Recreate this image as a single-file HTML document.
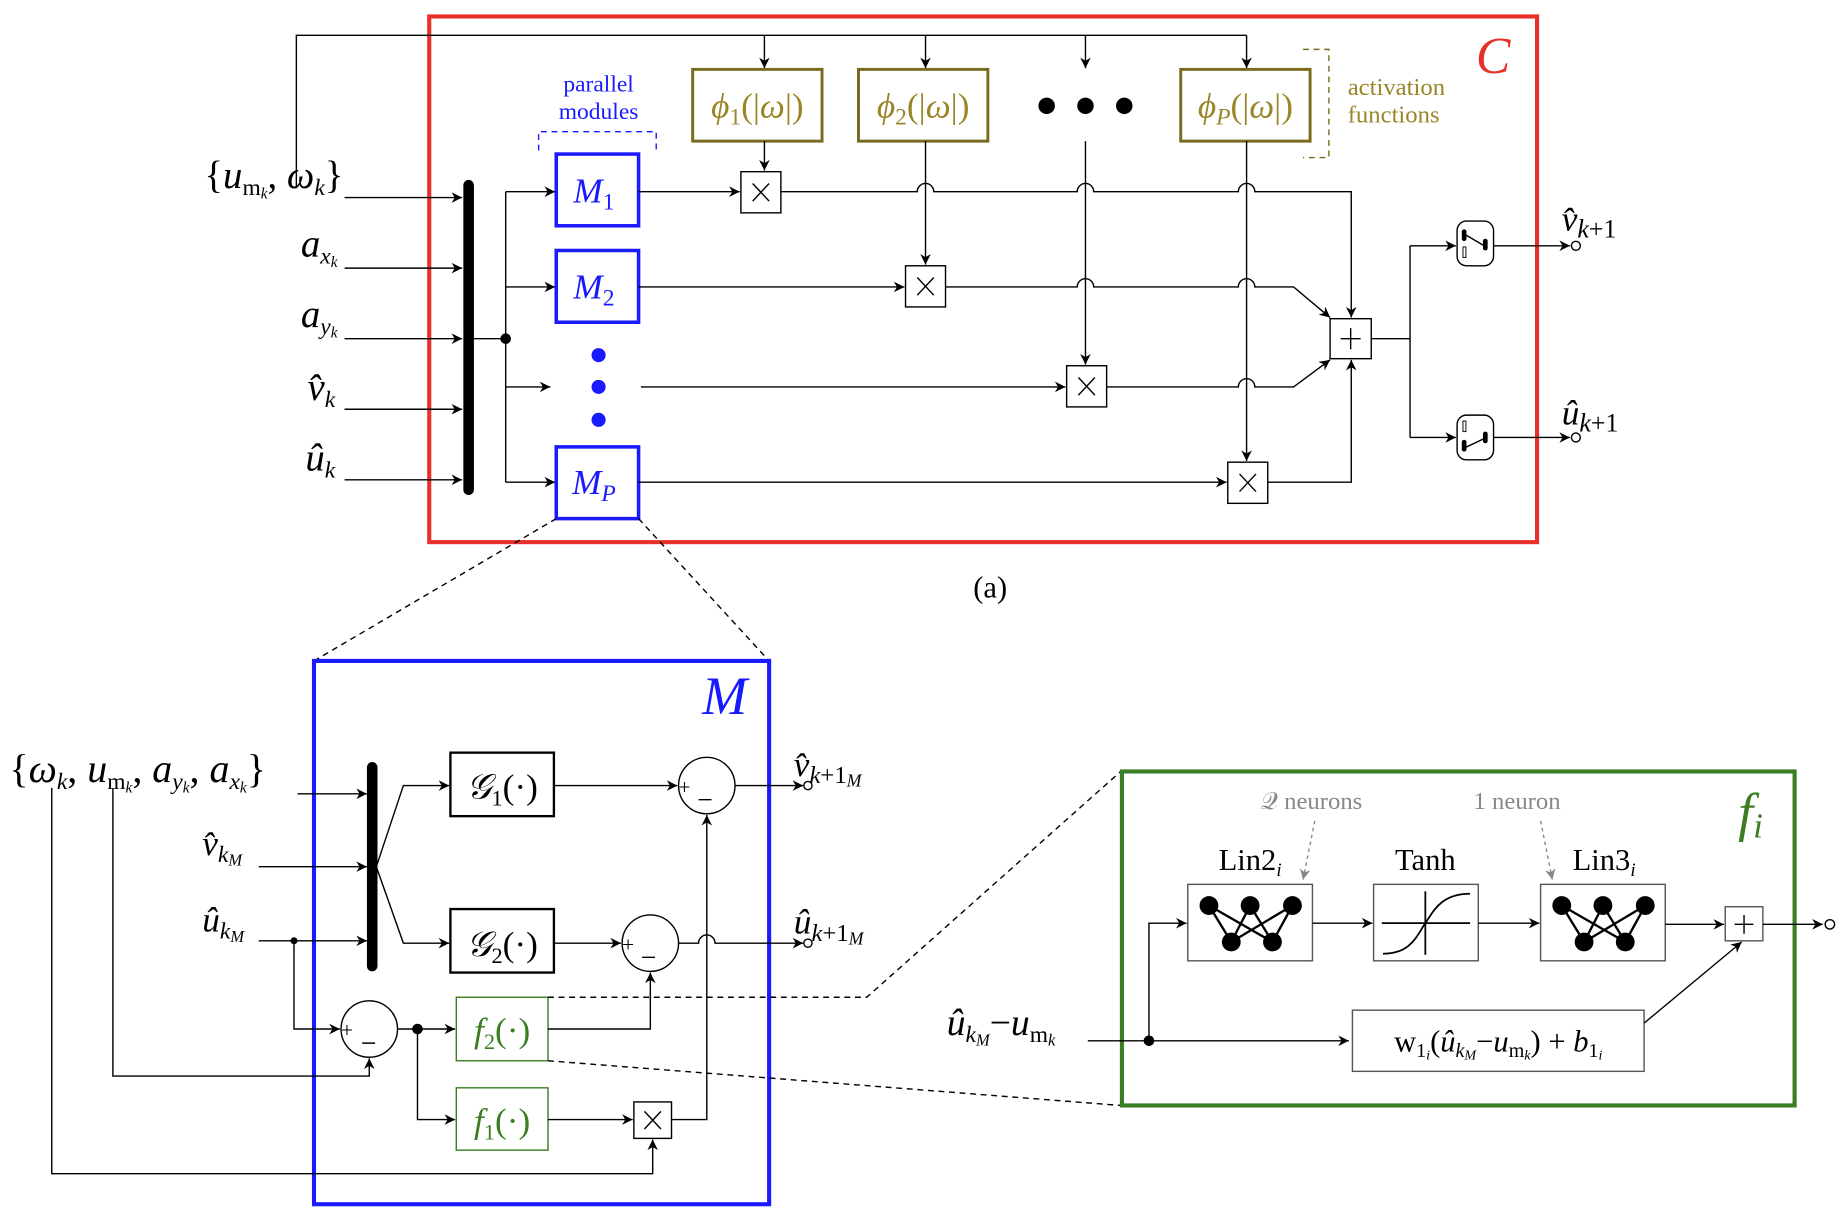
<!DOCTYPE html>
<html><head><meta charset="utf-8"><style>
html,body{margin:0;padding:0;background:#fff}
svg{display:block}
text{font-family:"Liberation Serif",serif}
.i{font-style:italic}
</style></head><body>
<svg width="1844" height="1216" viewBox="0 0 1568 1034" preserveAspectRatio="none" xmlns="http://www.w3.org/2000/svg">
<defs>
<marker id="a" viewBox="0 0 10 10" refX="10" refY="5" markerWidth="9" markerHeight="9" markerUnits="userSpaceOnUse" orient="auto"><path d="M0,0 L10,5 L0,10 L3,5 z" fill="#000"/></marker>
<marker id="g" viewBox="0 0 10 10" refX="10" refY="5" markerWidth="9" markerHeight="9" markerUnits="userSpaceOnUse" orient="auto"><path d="M0,0 L10,5 L0,10 L3,5 z" fill="#888"/></marker>
</defs>
<g fill="none" stroke="#000" stroke-width="1.2">
<rect x="365" y="14" width="942" height="447" stroke="#e8302a" stroke-width="3.5"/>
<polyline points="252,160 252,30 1060,30"/>
<line x1="650" y1="30" x2="650" y2="58" marker-end="url(#a)"/>
<line x1="787" y1="30" x2="787" y2="58" marker-end="url(#a)"/>
<line x1="923" y1="30" x2="923" y2="58" marker-end="url(#a)"/>
<line x1="1060" y1="30" x2="1060" y2="58" marker-end="url(#a)"/>
<g stroke="#7a6a1e" stroke-width="2.5">
<rect x="589" y="59" width="110" height="61"/><rect x="730" y="59" width="110" height="61"/><rect x="1004" y="59" width="110" height="61"/>
</g>
<polyline points="1108,42 1130,42 1130,134 1108,134" stroke="#7a6a1e" stroke-dasharray="5,4"/>
<polyline points="458,128 458,112 558,112 558,128" stroke="#1a1aff" stroke-dasharray="5,4"/>
<g stroke="#1a1aff" stroke-width="3">
<rect x="473" y="131" width="70" height="61"/><rect x="473" y="213" width="70" height="61"/><rect x="473" y="380" width="70" height="61"/>
</g>
<line x1="293" y1="168" x2="393" y2="168" marker-end="url(#a)"/>
<line x1="293" y1="228" x2="393" y2="228" marker-end="url(#a)"/>
<line x1="293" y1="288" x2="393" y2="288" marker-end="url(#a)"/>
<line x1="293" y1="348" x2="393" y2="348" marker-end="url(#a)"/>
<line x1="293" y1="408" x2="393" y2="408" marker-end="url(#a)"/>
<line x1="403" y1="288" x2="430" y2="288"/>
<line x1="430" y1="163" x2="430" y2="410"/>
<line x1="430" y1="163" x2="472" y2="163" marker-end="url(#a)"/>
<line x1="430" y1="244" x2="472" y2="244" marker-end="url(#a)"/>
<line x1="430" y1="329" x2="468" y2="329" marker-end="url(#a)"/>
<line x1="430" y1="410" x2="472" y2="410" marker-end="url(#a)"/>
<rect x="630" y="146" width="34" height="35"/><rect x="770" y="226" width="34" height="35"/>
<rect x="907" y="311" width="34" height="35"/><rect x="1044" y="393" width="34" height="35"/>
<line x1="543" y1="163" x2="629" y2="163" marker-end="url(#a)"/>
<line x1="543" y1="244" x2="769" y2="244" marker-end="url(#a)"/>
<line x1="545" y1="329" x2="906" y2="329" marker-end="url(#a)"/>
<line x1="543" y1="410" x2="1043" y2="410" marker-end="url(#a)"/>
<line x1="650" y1="120" x2="650" y2="145" marker-end="url(#a)"/>
<line x1="787" y1="120" x2="787" y2="225" marker-end="url(#a)"/>
<line x1="923" y1="120" x2="923" y2="310" marker-end="url(#a)"/>
<line x1="1060" y1="120" x2="1060" y2="392" marker-end="url(#a)"/>
<path d="M664,163 H780 A7,7 0 0 1 794,163 H916 A7,7 0 0 1 930,163 H1053 A7,7 0 0 1 1067,163 H1149 V270" marker-end="url(#a)"/>
<path d="M804,244 H916 A7,7 0 0 1 930,244 H1053 A7,7 0 0 1 1067,244 H1100 L1131,270" marker-end="url(#a)"/>
<path d="M941,329 H1053 A7,7 0 0 1 1067,329 H1100 L1131,306" marker-end="url(#a)"/>
<path d="M1078,410 H1149 V306" marker-end="url(#a)"/>
<rect x="1131" y="271" width="35" height="34"/>
<path d="M1140,288 H1157 M1148.5,279 V297"/>
<path d="M640,156 L654,171 M654,156 L640,171 M780,236 L794,251 M794,236 L780,251 M917,321 L931,336 M931,321 L917,336 M1054,403 L1068,418 M1068,403 L1054,418"/>
<line x1="1166" y1="288" x2="1199" y2="288"/>
<line x1="1199" y1="209" x2="1199" y2="372"/>
<line x1="1199" y1="209" x2="1238" y2="209" marker-end="url(#a)"/>
<line x1="1199" y1="372" x2="1238" y2="372" marker-end="url(#a)"/>
<rect x="1239" y="188" width="31" height="38" rx="8"/><rect x="1239" y="353" width="31" height="38" rx="8"/>
<path d="M1245,199 L1262,209"/><path d="M1245,381 L1262,373"/>
<rect x="1244" y="210" width="2.5" height="9" stroke-width="0.8"/><rect x="1244" y="358" width="2.5" height="9" stroke-width="0.8"/>
<line x1="1270" y1="209" x2="1335" y2="209" marker-end="url(#a)"/>
<line x1="1270" y1="372" x2="1335" y2="372" marker-end="url(#a)"/>
<circle cx="1340" cy="209" r="3.8"/><circle cx="1340" cy="372" r="3.8"/>
<line x1="473" y1="441" x2="267" y2="562" stroke-dasharray="5,4"/>
<line x1="543" y1="441" x2="654" y2="562" stroke-dasharray="5,4"/>
<rect x="267" y="562" width="387" height="462" stroke="#1a1aff" stroke-width="3.5"/>
<line x1="253" y1="675" x2="312" y2="675" marker-end="url(#a)"/>
<line x1="220" y1="737" x2="312" y2="737" marker-end="url(#a)"/>
<line x1="220" y1="800" x2="312" y2="800" marker-end="url(#a)"/>
<polyline points="320,737 343,668 382,668" marker-end="url(#a)"/>
<polyline points="320,737 343,802 382,802" marker-end="url(#a)"/>
<rect x="383" y="640" width="88" height="54" stroke-width="2"/>
<rect x="383" y="773" width="88" height="54" stroke-width="2"/>
<line x1="471" y1="668" x2="576" y2="668" marker-end="url(#a)"/>
<circle cx="601" cy="668" r="24"/>
<line x1="625" y1="668" x2="683" y2="668" marker-end="url(#a)"/>
<circle cx="687" cy="668" r="3.5"/>
<line x1="471" y1="802" x2="528" y2="802" marker-end="url(#a)"/>
<circle cx="553" cy="802" r="24"/>
<path d="M577,802 H594 A7,7 0 0 1 608,802 H683" marker-end="url(#a)"/>
<circle cx="687" cy="802" r="3.5"/>
<polyline points="250,800 250,875 289,875" marker-end="url(#a)"/>
<circle cx="314" cy="875" r="24"/>
<polyline points="96,670 96,915 314,915 314,900" marker-end="url(#a)"/>
<line x1="338" y1="875" x2="387" y2="875" marker-end="url(#a)"/>
<polyline points="355,875 355,952 387,952" marker-end="url(#a)"/>
<rect x="388" y="848" width="78" height="54" stroke="#3a7d22"/>
<rect x="388" y="925" width="78" height="53" stroke="#3a7d22"/>
<polyline points="466,875 553,875 553,827" marker-end="url(#a)"/>
<line x1="466" y1="952" x2="538" y2="952" marker-end="url(#a)"/>
<rect x="539" y="937" width="32" height="31"/>
<path d="M548,945 L562,960 M562,945 L548,960"/>
<polyline points="571,952 601,952 601,693" marker-end="url(#a)"/>
<polyline points="44,670 44,998 555,998 555,969" marker-end="url(#a)"/>
<polyline points="466,848 737,848 953,656" stroke-dasharray="5,4"/>
<line x1="466" y1="902" x2="953" y2="940" stroke-dasharray="5,4"/>
<!-- minus signs in sum circles -->
<path d="M594,680 H605 M546,814 H557 M308,887 H319"/>
<rect x="954" y="656" width="572" height="284" stroke="#3a7d22" stroke-width="3.5"/>
<rect x="1010" y="752" width="106" height="65" stroke="#555"/>
<rect x="1168" y="752" width="89" height="65" stroke="#555"/>
<rect x="1310" y="752" width="106" height="65" stroke="#555"/>
<line x1="1118" y1="698" x2="1108" y2="748" stroke="#888" stroke-dasharray="3,3" marker-end="url(#g)"/>
<line x1="1310" y1="698" x2="1320" y2="748" stroke="#888" stroke-dasharray="3,3" marker-end="url(#g)"/>
<polyline points="977,885 977,785 1009,785" marker-end="url(#a)"/>
<line x1="1116" y1="785" x2="1167" y2="785" marker-end="url(#a)"/>
<line x1="1257" y1="785" x2="1309" y2="785" marker-end="url(#a)"/>
<line x1="1416" y1="786" x2="1466" y2="786" marker-end="url(#a)"/>
<rect x="1467" y="771" width="32" height="29" stroke="#555"/>
<path d="M1475,786 H1491 M1483,778 V794"/>
<line x1="1499" y1="786" x2="1550" y2="786" marker-end="url(#a)"/>
<circle cx="1556" cy="786" r="4"/>
<line x1="925" y1="885" x2="1147" y2="885" marker-end="url(#a)"/>
<rect x="1150" y="859" width="248" height="52" stroke="#555"/>
<line x1="1398" y1="870" x2="1481" y2="801" marker-end="url(#a)"/>
<path d="M1175,785 H1250 M1212,758 V812" stroke-width="1.5"/>
<path d="M1176,811 C1200,811 1205,795 1212,785 C1219,775 1225,760 1250,760" stroke-width="1.5"/>
<g stroke-width="2">
<path d="M1028,770 L1047,801 L1063,770 L1082,801 L1099,770 M1028,770 L1082,801 M1099,770 L1047,801"/>
<path d="M1328,770 L1347,801 L1363,770 L1382,801 L1399,770 M1328,770 L1382,801 M1399,770 L1347,801"/>
</g>
</g>
<g fill="#000">
<rect x="394" y="153" width="9" height="268" rx="4.5"/>
<rect x="312" y="648" width="9" height="178" rx="4.5"/>
<circle cx="430" cy="288" r="4.5"/><circle cx="250" cy="800" r="3"/><circle cx="355" cy="875" r="4.5"/><circle cx="977" cy="885" r="4.5"/>
<circle cx="890" cy="90" r="7"/><circle cx="923" cy="90" r="7"/><circle cx="956" cy="90" r="7"/>
<rect x="1243" y="195" width="4" height="10" rx="2"/><rect x="1261" y="203" width="4" height="10" rx="2"/>
<rect x="1243" y="374" width="4" height="10" rx="2"/><rect x="1261" y="367" width="4" height="10" rx="2"/>
<circle cx="1028" cy="770" r="8"/><circle cx="1063" cy="770" r="8"/><circle cx="1099" cy="770" r="8"/><circle cx="1047" cy="801" r="8"/><circle cx="1082" cy="801" r="8"/>
<circle cx="1328" cy="770" r="8"/><circle cx="1363" cy="770" r="8"/><circle cx="1399" cy="770" r="8"/><circle cx="1347" cy="801" r="8"/><circle cx="1382" cy="801" r="8"/>
</g>
<g fill="#1a1aff"><circle cx="509" cy="302" r="6"/><circle cx="509" cy="329" r="6"/><circle cx="509" cy="357" r="6"/></g>
<text x="1255" y="62" class="i" font-size="44" fill="#e8302a">C</text>
<g fill="#9a8528" font-size="30" text-anchor="middle">
<text x="644" y="100"><tspan class="i">ϕ</tspan><tspan font-size="20" dy="6">1</tspan><tspan dy="-6">(|</tspan><tspan class="i">ω</tspan>|)</text>
<text x="785" y="100"><tspan class="i">ϕ</tspan><tspan font-size="20" dy="6">2</tspan><tspan dy="-6">(|</tspan><tspan class="i">ω</tspan>|)</text>
<text x="1059" y="100"><tspan class="i">ϕ</tspan><tspan font-size="20" dy="6" class="i">P</tspan><tspan dy="-6">(|</tspan><tspan class="i">ω</tspan>|)</text>
</g>
<g fill="#9a8528" font-size="21"><text x="1146" y="81">activation</text><text x="1146" y="104">functions</text></g>
<g fill="#1a1aff" font-size="20" text-anchor="middle"><text x="509" y="78">parallel</text><text x="509" y="101">modules</text></g>
<g fill="#1a1aff" font-size="30" text-anchor="middle" class="i">
<text x="505" y="172">M<tspan font-size="20" dy="6" font-style="normal">1</tspan></text>
<text x="505" y="254">M<tspan font-size="20" dy="6" font-style="normal">2</tspan></text>
<text x="505" y="420">M<tspan font-size="20" dy="6">P</tspan></text>
</g>
<g font-size="33" text-anchor="end">
<text x="292" y="160">{<tspan class="i">u</tspan><tspan font-size="20" dy="6">m</tspan><tspan font-size="13" dy="3" class="i">k</tspan><tspan dy="-9">, </tspan><tspan class="i">ω</tspan><tspan font-size="20" dy="6" class="i">k</tspan><tspan dy="-6">}</tspan></text>
<text x="287" y="218" class="i">a<tspan font-size="20" dy="6">x</tspan><tspan font-size="13" dy="3">k</tspan></text>
<text x="287" y="278" class="i">a<tspan font-size="20" dy="6">y</tspan><tspan font-size="13" dy="3">k</tspan></text>
<text x="285" y="340" class="i">v̂<tspan font-size="20" dy="6">k</tspan></text>
<text x="285" y="400" class="i">û<tspan font-size="20" dy="6">k</tspan></text>
</g>
<g font-size="30">
<text x="1328" y="196" class="i">v̂<tspan font-size="22" dy="6">k</tspan><tspan font-size="22" font-style="normal">+1</tspan></text>
<text x="1328" y="361" class="i">û<tspan font-size="22" dy="6">k</tspan><tspan font-size="22" font-style="normal">+1</tspan></text>
</g>
<text x="842" y="508" font-size="26" text-anchor="middle">(a)</text>
<text x="597" y="607" class="i" font-size="46" fill="#1a1aff">M</text>
<text x="8" y="665" font-size="34">{<tspan class="i">ω</tspan><tspan font-size="20" dy="6" class="i">k</tspan><tspan dy="-6">, </tspan><tspan class="i">u</tspan><tspan font-size="20" dy="6">m</tspan><tspan font-size="13" dy="3" class="i">k</tspan><tspan dy="-9">, </tspan><tspan class="i">a</tspan><tspan font-size="20" dy="6" class="i">y</tspan><tspan font-size="13" dy="3" class="i">k</tspan><tspan dy="-9">, </tspan><tspan class="i">a</tspan><tspan font-size="20" dy="6" class="i">x</tspan><tspan font-size="13" dy="3" class="i">k</tspan><tspan dy="-9">}</tspan></text>
<text x="172" y="727" font-size="30" class="i">v̂<tspan font-size="20" dy="6">k</tspan><tspan font-size="14" dy="3">M</tspan></text>
<text x="172" y="792" font-size="30" class="i">û<tspan font-size="20" dy="6">k</tspan><tspan font-size="14" dy="3">M</tspan></text>
<text x="675" y="660" font-size="30" class="i">v̂<tspan font-size="21" dy="6">k</tspan><tspan font-size="21" font-style="normal">+1</tspan><tspan font-size="15" dy="3">M</tspan></text>
<text x="675" y="794" font-size="30" class="i">û<tspan font-size="21" dy="6">k</tspan><tspan font-size="21" font-style="normal">+1</tspan><tspan font-size="15" dy="3">M</tspan></text>
<g font-size="30" text-anchor="middle">
<text x="427" y="679"><tspan class="i">𝒢</tspan><tspan font-size="19" dy="6">1</tspan><tspan dy="-6">(·)</tspan></text>
<text x="427" y="813"><tspan class="i">𝒢</tspan><tspan font-size="19" dy="6">2</tspan><tspan dy="-6">(·)</tspan></text>
<text x="427" y="886" fill="#3a7d22"><tspan class="i">f</tspan><tspan font-size="19" dy="6">2</tspan><tspan dy="-6">(·)</tspan></text>
<text x="427" y="963" fill="#3a7d22"><tspan class="i">f</tspan><tspan font-size="19" dy="6">1</tspan><tspan dy="-6">(·)</tspan></text>
</g>
<g font-size="18"><text x="577" y="675">+</text><text x="529" y="809">+</text><text x="290" y="882">+</text></g>
<text x="1478" y="706" class="i" font-size="46" fill="#3a7d22">f<tspan font-size="30" dy="6">i</tspan></text>
<g fill="#888" font-size="21" text-anchor="middle"><text x="1115" y="688">𝒬 neurons</text><text x="1290" y="688">1 neuron</text></g>
<g font-size="26" text-anchor="middle">
<text x="1063" y="740">Lin2<tspan font-size="16" dy="5" class="i">i</tspan></text>
<text x="1212" y="740">Tanh</text>
<text x="1364" y="740">Lin3<tspan font-size="16" dy="5" class="i">i</tspan></text>
</g>
<text x="1274" y="894" font-size="26" text-anchor="middle">w<tspan font-size="17" dy="5">1</tspan><tspan font-size="12" dy="2" class="i">i</tspan><tspan dy="-7">(</tspan><tspan class="i">û</tspan><tspan font-size="17" dy="5" class="i">k</tspan><tspan font-size="12" dy="2" class="i">M</tspan><tspan dy="-7">−</tspan><tspan class="i">u</tspan><tspan font-size="17" dy="5">m</tspan><tspan font-size="12" dy="2" class="i">k</tspan><tspan dy="-7">) + </tspan><tspan class="i">b</tspan><tspan font-size="17" dy="5">1</tspan><tspan font-size="12" dy="2" class="i">i</tspan></text>
<text x="805" y="880" font-size="32"><tspan class="i">û</tspan><tspan font-size="20" dy="6" class="i">k</tspan><tspan font-size="14" dy="3" class="i">M</tspan><tspan dy="-9">−</tspan><tspan class="i">u</tspan><tspan font-size="20" dy="6">m</tspan><tspan font-size="14" dy="3" class="i">k</tspan></text>
</svg>
</body></html>
